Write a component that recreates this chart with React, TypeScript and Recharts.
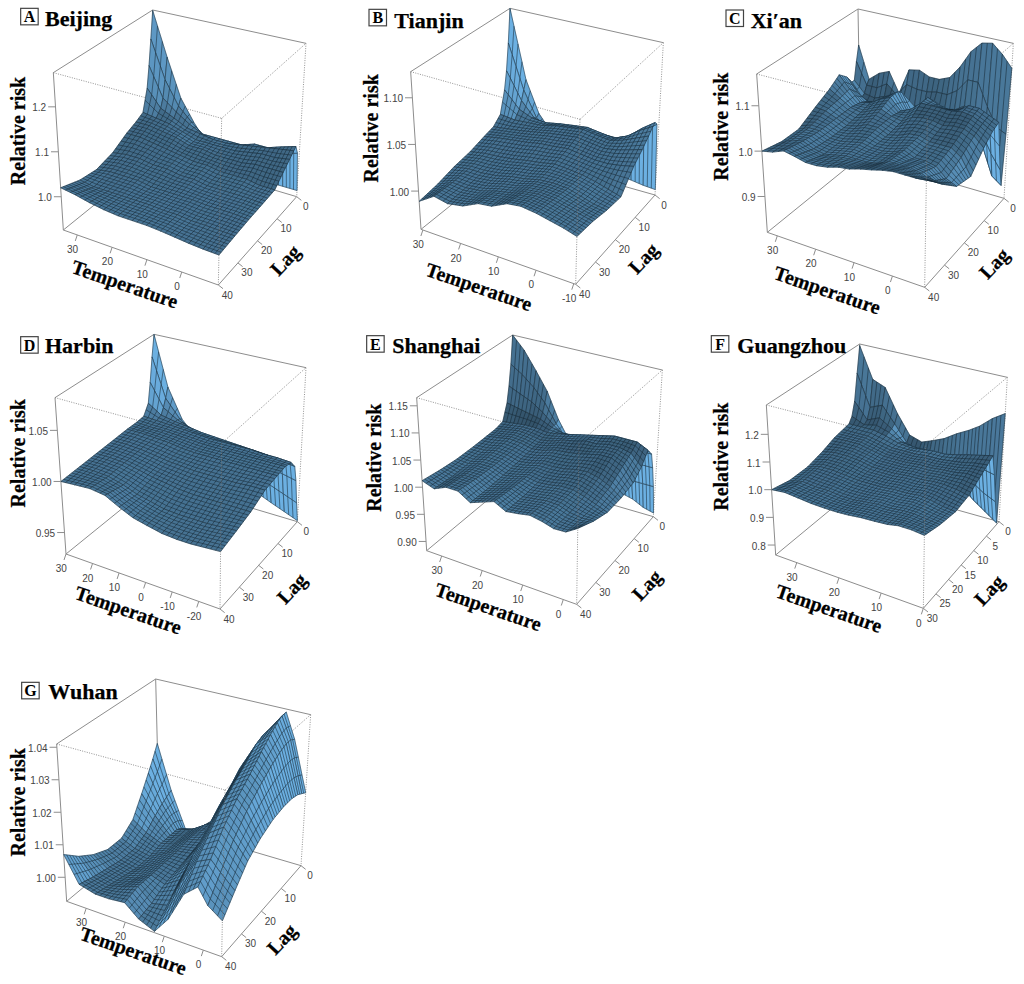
import React from 'react';
import { ScatterChart, Scatter, XAxis, YAxis } from 'recharts';

// lag rows go far to near, temperature columns hot to cold, risk[row][column]
const beijingTemps = [34, 30, 26, 22, 18, 14, 10, 6, 2, -2, -6, -10.5];
const beijingLags = [0, 1, 2, 3, 5, 8, 12, 18, 25, 32, 40];
const beijingRisk = [
  [1.275, 1.17, 1.08, 1.03, 0.99, 0.97, 0.96, 0.95, 0.95, 0.94, 0.94, 0.94],
  [1.21, 1.12, 1.065, 1.035, 1.01, 1.01, 1.01, 1.01, 1.01, 1.01, 1.02, 1.03],
  [1.15, 1.08, 1.055, 1.035, 1.02, 1.02, 1.02, 1.02, 1.03, 1.03, 1.04, 1.05],
  [1.1, 1.06, 1.045, 1.03, 1.025, 1.02, 1.02, 1.025, 1.03, 1.035, 1.04, 1.045],
  [1.05, 1.045, 1.04, 1.03, 1.02, 1.02, 1.02, 1.02, 1.025, 1.03, 1.03, 1.035],
  [1.04, 1.04, 1.035, 1.03, 1.02, 1.02, 1.015, 1.015, 1.015, 1.02, 1.02, 1.02],
  [1.03, 1.03, 1.025, 1.02, 1.015, 1.01, 1.01, 1.005, 1.005, 1.005, 1.0, 1.0],
  [1.01, 1.015, 1.015, 1.01, 1.01, 1.005, 1.005, 1.0, 1.0, 1.0, 1.0, 0.998],
  [1.0, 1.005, 1.005, 1.005, 1.0, 1.0, 1.0, 1.0, 0.998, 0.998, 0.998, 0.996],
  [1.005, 1.0, 1.0, 1.0, 1.0, 1.0, 0.998, 0.998, 0.995, 0.995, 0.994, 0.993],
  [1.02, 1.015, 1.008, 1.003, 1.0, 1.0, 1.0, 0.998, 0.995, 0.992, 0.99, 0.989],
];

const tianjinTemps = [30.5, 26.5, 23, 19, 15, 11.5, 7.5, 4, 0, -3.5, -7, -10.5];
const tianjinLags = [0, 1, 2, 3, 5, 8, 12, 18, 25, 32, 40];
const tianjinRisk = [
  [1.128, 1.05, 1.015, 0.995, 0.985, 0.98, 0.975, 0.97, 0.97, 0.968, 0.966, 0.965],
  [1.09, 1.04, 1.012, 1.0, 1.0, 1.005, 1.008, 1.01, 1.012, 1.018, 1.028, 1.04],
  [1.06, 1.03, 1.014, 1.01, 1.012, 1.016, 1.018, 1.016, 1.016, 1.022, 1.034, 1.044],
  [1.04, 1.022, 1.016, 1.015, 1.018, 1.02, 1.022, 1.02, 1.018, 1.024, 1.034, 1.042],
  [1.016, 1.014, 1.015, 1.016, 1.02, 1.022, 1.024, 1.022, 1.02, 1.024, 1.03, 1.036],
  [1.008, 1.01, 1.012, 1.015, 1.018, 1.02, 1.022, 1.02, 1.018, 1.02, 1.024, 1.028],
  [1.005, 1.008, 1.01, 1.012, 1.015, 1.016, 1.018, 1.016, 1.014, 1.014, 1.016, 1.019],
  [1.0, 1.003, 1.004, 1.006, 1.009, 1.011, 1.014, 1.013, 1.011, 1.008, 1.004, 1.0],
  [0.997, 1.0, 1.0, 1.002, 1.006, 1.008, 1.012, 1.013, 1.012, 1.008, 1.004, 1.002],
  [0.992, 0.999, 0.998, 1.0, 1.005, 1.008, 1.014, 1.016, 1.015, 1.012, 1.009, 1.006],
  [0.989, 1.0, 0.997, 1.0, 1.008, 1.01, 1.018, 1.02, 1.018, 1.015, 1.012, 1.008],
];

const xianTemps = [32.6, 29.9, 27.1, 24.4, 21.7, 19, 16.2, 13.5, 10.8, 8, 5.3, 2.6, -0.2, -3, -5.7, -8.4];
const xianLags = [0, 1, 2, 3, 5, 8, 12, 18, 25, 32, 40];
const xianRisk = [
  [1.085, 1.01, 1.03, 1.04, 0.995, 1.055, 1.06, 1.05, 1.05, 1.06, 1.09, 1.13, 1.155, 1.16, 1.14, 1.114],
  [1.05, 1.0, 1.0, 1.015, 0.995, 1.025, 1.02, 1.02, 1.025, 1.025, 1.04, 1.07, 1.07, 1.02, 0.98, 0.97],
  [1.01, 0.985, 0.98, 0.99, 0.995, 1.005, 0.985, 0.995, 1.01, 0.995, 1.0, 1.015, 1.0, 0.93, 0.875, 0.86],
  [1.01, 0.98, 0.97, 0.98, 1.0, 1.015, 0.975, 0.99, 1.015, 1.0, 1.0, 1.01, 1.01, 0.97, 0.93, 0.9],
  [1.03, 1.0, 0.985, 0.99, 1.01, 1.025, 0.985, 1.0, 1.03, 1.02, 1.015, 1.02, 1.035, 1.035, 1.025, 1.015],
  [1.047, 1.02, 0.995, 1.0, 1.015, 1.025, 1.0, 1.01, 1.03, 1.03, 1.03, 1.03, 1.034, 1.03, 1.02, 1.008],
  [1.03, 1.015, 1.0, 0.995, 1.005, 1.015, 1.005, 1.0, 1.015, 1.02, 1.02, 1.015, 1.02, 1.02, 1.01, 0.99],
  [1.012, 1.01, 1.0, 0.99, 0.995, 1.005, 1.005, 0.995, 1.0, 1.01, 1.012, 1.005, 1.005, 1.005, 0.99, 0.955],
  [0.99, 1.0, 1.0, 0.99, 0.99, 0.995, 1.0, 0.995, 0.995, 1.0, 1.01, 1.0, 1.0, 0.995, 0.975, 0.965],
  [0.99, 1.0, 1.005, 0.995, 0.99, 0.995, 1.0, 1.0, 1.0, 1.005, 1.015, 1.015, 1.015, 1.01, 1.0, 1.0],
  [1.0, 1.005, 1.015, 1.01, 1.004, 1.004, 1.008, 1.015, 1.018, 1.025, 1.03, 1.036, 1.04, 1.04, 1.04, 1.05],
];

const harbinTemps = [30, 25, 19.5, 14, 9, 4, -1, -6.5, -12, -17, -22.5, -28];
const harbinLags = [0, 1, 2, 3, 5, 8, 12, 18, 25, 32, 40];
const harbinRisk = [
  [1.082, 1.03, 1.0, 0.985, 0.975, 0.965, 0.955, 0.95, 0.945, 0.94, 0.935, 0.93],
  [1.06, 1.02, 1.002, 0.992, 0.985, 0.978, 0.972, 0.968, 0.964, 0.96, 0.955, 0.95],
  [1.035, 1.012, 1.003, 0.998, 0.994, 0.99, 0.987, 0.984, 0.982, 0.98, 0.977, 0.974],
  [1.015, 1.006, 1.003, 1.001, 0.999, 0.998, 0.997, 0.996, 0.995, 0.994, 0.992, 0.99],
  [1.005, 1.004, 1.003, 1.002, 1.001, 1.0, 1.0, 1.0, 1.0, 0.999, 0.999, 0.998],
  [1.004, 1.003, 1.003, 1.002, 1.001, 1.0, 1.0, 1.0, 1.0, 1.0, 1.0, 1.0],
  [1.004, 1.004, 1.003, 1.002, 1.0, 0.999, 0.999, 0.999, 0.999, 0.999, 0.999, 0.999],
  [1.003, 1.003, 1.002, 1.0, 0.998, 0.997, 0.996, 0.996, 0.996, 0.996, 0.997, 0.997],
  [1.002, 1.002, 1.001, 0.998, 0.995, 0.993, 0.991, 0.99, 0.99, 0.99, 0.99, 0.99],
  [1.001, 1.001, 1.0, 0.996, 0.991, 0.988, 0.985, 0.984, 0.984, 0.984, 0.985, 0.986],
  [1.0, 1.001, 1.002, 1.0, 0.993, 0.987, 0.984, 0.981, 0.98, 0.98, 0.981, 0.982],
];

const shanghaiTemps = [33.7, 30.9, 28, 25.2, 22.3, 19.5, 16.6, 13.8, 10.9, 8.1, 5.2, 2.4, -0.5, -3.3];
const shanghaiLags = [0, 1, 2, 3, 5, 8, 12, 18, 25, 32, 40];
const shanghaiRisk = [
  [1.165, 1.14, 1.105, 1.07, 1.02, 0.985, 0.96, 0.945, 0.93, 0.92, 0.91, 0.905, 0.895, 0.89],
  [1.11, 1.095, 1.075, 1.05, 1.015, 0.99, 0.975, 0.965, 0.955, 0.95, 0.945, 0.945, 0.945, 0.945],
  [1.07, 1.06, 1.05, 1.035, 1.015, 1.0, 0.995, 0.99, 0.985, 0.985, 0.985, 0.985, 0.985, 0.985],
  [1.04, 1.035, 1.03, 1.025, 1.015, 1.01, 1.01, 1.01, 1.01, 1.01, 1.01, 1.01, 1.015, 1.015],
  [1.01, 1.012, 1.015, 1.015, 1.012, 1.015, 1.02, 1.025, 1.03, 1.035, 1.04, 1.04, 1.04, 1.03],
  [1.006, 1.01, 1.014, 1.012, 1.008, 1.012, 1.02, 1.024, 1.03, 1.03, 1.035, 1.035, 1.03, 1.01],
  [1.005, 1.008, 1.012, 1.01, 1.005, 1.008, 1.015, 1.017, 1.02, 1.025, 1.03, 1.03, 1.02, 0.995],
  [1.004, 1.004, 1.01, 1.008, 1.002, 1.005, 1.011, 1.011, 1.013, 1.018, 1.02, 1.015, 1.005, 0.99],
  [1.004, 1.002, 1.008, 1.008, 1.0, 1.004, 1.01, 1.006, 1.008, 1.012, 1.012, 1.006, 0.998, 0.99],
  [1.007, 1.001, 1.01, 1.01, 0.999, 1.005, 1.012, 1.004, 1.007, 1.01, 1.009, 1.002, 0.999, 1.0],
  [1.012, 1.004, 1.014, 1.014, 1.0, 1.008, 1.016, 1.005, 1.008, 1.012, 1.008, 1.002, 1.003, 1.016],
];

const guangzhouTemps = [35, 32, 29, 26, 23, 20, 17.5, 14.5, 11.5, 8.5, 6, 3, 0];
const guangzhouLags = [0, 1, 2, 3, 4, 6, 9, 13, 18, 24, 30];
const guangzhouRisk = [
  [1.3, 1.18, 1.16, 1.07, 1.0, 0.985, 1.0, 1.02, 1.05, 1.075, 1.1, 1.14, 1.17],
  [1.2, 1.08, 1.1, 1.04, 0.98, 0.96, 0.95, 0.93, 0.9, 0.86, 0.83, 0.8, 0.77],
  [1.1, 1.04, 1.06, 1.03, 0.99, 0.98, 0.975, 0.965, 0.95, 0.93, 0.91, 0.88, 0.86],
  [1.05, 1.03, 1.04, 1.025, 1.0, 0.995, 0.995, 0.99, 0.99, 1.0, 1.0, 0.98, 0.97],
  [1.03, 1.03, 1.03, 1.02, 1.005, 1.0, 1.005, 1.01, 1.01, 1.02, 1.03, 1.04, 1.05],
  [1.025, 1.025, 1.025, 1.015, 1.005, 1.005, 1.005, 1.01, 1.01, 1.015, 1.02, 1.03, 1.035],
  [1.018, 1.02, 1.02, 1.01, 1.0, 1.0, 1.0, 1.005, 1.005, 1.01, 1.012, 1.02, 1.015],
  [1.0, 1.01, 1.01, 1.005, 0.995, 0.995, 0.995, 1.0, 1.0, 1.005, 1.005, 1.0, 0.99],
  [0.985, 1.0, 1.0, 0.995, 0.99, 0.99, 0.99, 0.995, 0.995, 1.0, 0.995, 0.985, 0.98],
  [0.985, 0.995, 0.99, 0.99, 0.985, 0.985, 0.99, 0.995, 0.995, 1.0, 1.0, 0.995, 0.99],
  [1.0, 1.005, 1.0, 0.995, 0.993, 0.993, 0.995, 1.0, 1.002, 1.005, 1.012, 1.012, 1.007],
];

const wuhanTemps = [35, 31.5, 27.5, 24, 20, 16.5, 12.5, 9, 5, 1.5, -1, -4.7];
const wuhanLags = [0, 2, 4, 7, 11, 16, 22, 28, 34, 40];
const wuhanRisk = [
  [1.0195, 1.005, 0.993, 0.995, 0.999, 1.002, 1.01, 1.022, 1.034, 1.04, 1.032, 1.016],
  [1.0155, 1.004, 0.995, 0.996, 0.999, 1.002, 1.011, 1.023, 1.034, 1.04, 1.033, 1.017],
  [1.012, 1.003, 0.996, 0.997, 1.0, 1.002, 1.011, 1.024, 1.034, 1.039, 1.033, 1.018],
  [1.007, 1.001, 0.996, 0.997, 1.0, 1.002, 1.011, 1.024, 1.033, 1.037, 1.032, 1.0187],
  [1.001, 0.998, 0.996, 0.997, 1.0, 1.001, 1.009, 1.021, 1.03, 1.034, 1.03, 1.0187],
  [0.998, 0.996, 0.995, 0.997, 0.9995, 1.0, 1.007, 1.018, 1.027, 1.03, 1.027, 1.018],
  [0.998, 0.996, 0.995, 0.997, 0.9995, 0.999, 1.004, 1.014, 1.023, 1.026, 1.023, 1.016],
  [1.0, 0.997, 0.996, 0.997, 0.9995, 0.998, 1.001, 1.01, 1.018, 1.021, 1.018, 1.013],
  [1.003, 0.998, 0.997, 0.998, 0.9997, 0.996, 0.997, 1.005, 1.013, 1.015, 1.012, 1.008],
  [1.007, 0.9993, 0.998, 0.998, 0.9985, 0.995, 0.993, 0.998, 1.007, 1.0105, 1.006, 1.003],
];

type Pt = [number, number];

interface Panel {
  letter: string; name: string; left: number; top: number;
  temps: number[]; lags: number[]; risk: number[][];
  zRange: [number, number]; zTicks: number[]; zDigits: number;
  tempTicks: number[]; lagTicks: number[]; rearShade: number;
  topBack: Pt; topRight: Pt; topLeft: Pt; topFront: Pt;
  floorBack: Pt; floorRight: Pt; floorLeft: Pt; floorFront: Pt;
  box: Pt; title: Pt; tempLabel: Pt; lagLabel: Pt; riskLabel: Pt;
}

const panels: Panel[] = [
  { letter: 'A', name: 'Beijing', left: 0, top: 0, temps: beijingTemps, lags: beijingLags, risk: beijingRisk, rearShade: 0.3,
    zRange: [0.926, 1.276], zTicks: [1.0, 1.1, 1.2], zDigits: 1, tempTicks: [30, 20, 10, 0], lagTicks: [0, 10, 20, 30, 40],
    topBack: [458, 30], topRight: [918, 130], topLeft: [160, 218], topFront: [665, 355],
    floorBack: [468, 465], floorRight: [890, 590], floorLeft: [190, 690], floorFront: [655, 855],
    box: [62, 25], title: [135, 72], tempLabel: [375, 852], lagLabel: [855, 780], riskLabel: [55, 393] },
  { letter: 'B', name: 'Tianjin', left: 345, top: 0, temps: tianjinTemps, lags: tianjinLags, risk: tianjinRisk, rearShade: 0.15,
    zRange: [0.959, 1.128], zTicks: [1.0, 1.05, 1.1], zDigits: 2, tempTicks: [30, 20, 10, 0, -10], lagTicks: [0, 10, 20, 30, 40],
    topBack: [495, 25], topRight: [955, 128], topLeft: [197, 215], topFront: [705, 358],
    floorBack: [505, 465], floorRight: [930, 585], floorLeft: [228, 688], floorFront: [692, 853],
    box: [72, 28], title: [148, 78], tempLabel: [402, 860], lagLabel: [895, 775], riskLabel: [78, 385] },
  { letter: 'C', name: 'Xi′an', left: 684, top: 0, temps: xianTemps, lags: xianLags, risk: xianRisk, rearShade: 0.5,
    zRange: [0.821, 1.17], zTicks: [0.9, 1.0, 1.1], zDigits: 1, tempTicks: [30, 20, 10, 0], lagTicks: [0, 10, 20, 30, 40],
    topBack: [522, 27], topRight: [988, 130], topLeft: [218, 222], topFront: [730, 355],
    floorBack: [530, 470], floorRight: [960, 595], floorLeft: [250, 697], floorFront: [722, 862],
    box: [126, 30], title: [200, 78], tempLabel: [430, 870], lagLabel: [930, 790], riskLabel: [112, 380] },
  { letter: 'D', name: 'Harbin', left: 0, top: 325, temps: harbinTemps, lags: harbinLags, risk: harbinRisk, rearShade: 0.15,
    zRange: [0.929, 1.082], zTicks: [0.95, 1.0, 1.05], zDigits: 2, tempTicks: [30, 20, 10, 0, -10, -20], lagTicks: [0, 10, 20, 30, 40],
    topBack: [462, 28], topRight: [918, 128], topLeft: [165, 218], topFront: [665, 355],
    floorBack: [472, 465], floorRight: [892, 590], floorLeft: [198, 687], floorFront: [660, 852],
    box: [62, 35], title: [135, 80], tempLabel: [385, 855], lagLabel: [875, 790], riskLabel: [55, 385] },
  { letter: 'E', name: 'Shanghai', left: 345, top: 325, temps: shanghaiTemps, lags: shanghaiLags, risk: shanghaiRisk, rearShade: 0.5,
    zRange: [0.883, 1.165], zTicks: [0.9, 0.95, 1.0, 1.05, 1.1, 1.15], zDigits: 2, tempTicks: [30, 20, 10, 0], lagTicks: [0, 10, 20, 30, 40],
    topBack: [503, 30], topRight: [952, 135], topLeft: [215, 218], topFront: [702, 355],
    floorBack: [512, 455], floorRight: [925, 575], floorLeft: [245, 677], floorFront: [695, 838],
    box: [65, 32], title: [142, 78], tempLabel: [430, 845], lagLabel: [905, 780], riskLabel: [88, 398] },
  { letter: 'F', name: 'Guangzhou', left: 684, top: 325, temps: guangzhouTemps, lags: guangzhouLags, risk: guangzhouRisk, rearShade: 0.5,
    zRange: [0.764, 1.306], zTicks: [0.8, 0.9, 1.0, 1.1, 1.2], zDigits: 1, tempTicks: [30, 20, 10, 0], lagTicks: [0, 5, 10, 15, 20, 25, 30],
    topBack: [527, 57], topRight: [970, 157], topLeft: [247, 240], topFront: [725, 362],
    floorBack: [535, 475], floorRight: [945, 590], floorLeft: [275, 690], floorFront: [718, 850],
    box: [82, 32], title: [160, 80], tempLabel: [435, 850], lagLabel: [915, 795], riskLabel: [112, 395] },
  { letter: 'G', name: 'Wuhan', left: 0, top: 664, temps: wuhanTemps, lags: wuhanLags, risk: wuhanRisk, rearShade: 0,
    zRange: [0.9926, 1.041], zTicks: [1.0, 1.01, 1.02, 1.03, 1.04], zDigits: 2, tempTicks: [30, 20, 10, 0], lagTicks: [0, 10, 20, 30, 40],
    topBack: [467, 45], topRight: [932, 152], topLeft: [170, 240], topFront: [675, 378],
    floorBack: [478, 480], floorRight: [903, 605], floorLeft: [200, 712], floorFront: [665, 878],
    box: [65, 55], title: [145, 100], tempLabel: [400, 860], lagLabel: [845, 825], riskLabel: [55, 415] },
];

const CROP = 1 / 3;
const MESH = 36;
const SERIF = '"Liberation Serif", "DejaVu Serif", serif';
const SANS = '"Liberation Sans", Arial, sans-serif';

const lerp = (a: Pt, b: Pt, t: number): Pt => [a[0] + (b[0] - a[0]) * t, a[1] + (b[1] - a[1]) * t];

// u: 0 hot, 1 cold. v: 0 lag zero, 1 longest lag. w: 0 floor, 1 top of box.
const project = (p: Panel, u: number, v: number, w: number): Pt => {
  const floor = lerp(lerp(p.floorBack, p.floorRight, u), lerp(p.floorLeft, p.floorFront, u), v);
  const top = lerp(lerp(p.topBack, p.topRight, u), lerp(p.topLeft, p.topFront, u), v);
  return lerp(floor, top, w);
};

// flat parts sit dark under the mesh, steep parts lighter, slopes falling toward the viewer darker
const shadeOf = (a: number[], b: number[], c: number[], d: number[], rear: number) => {
  const e = [c[0] - a[0], c[1] - a[1], c[2] - a[2]];
  const f = [d[0] - b[0], d[1] - b[1], d[2] - b[2]];
  let n = [e[1] * f[2] - e[2] * f[1], e[2] * f[0] - e[0] * f[2], e[0] * f[1] - e[1] * f[0]];
  if (n[2] < 0) n = n.map((q) => -q);
  const len = Math.hypot(n[0], n[1], n[2]) || 1;
  const k = Math.max(0.4, Math.min(1, 0.66 + 0.55 * (1 - n[2] / len) - rear * Math.max(0, n[1] / len)));
  return `rgb(${Math.round(108 * k)},${Math.round(176 * k)},${Math.round(226 * k)})`;
};

const buildFacets = (p: Panel) => {
  const uOf = (t: number) => (p.temps[0] - t) / (p.temps[0] - p.temps[p.temps.length - 1]);
  const vOf = (l: number) => l / p.lags[p.lags.length - 1];
  const wOf = (z: number) => (z - p.zRange[0]) / (p.zRange[1] - p.zRange[0]);
  const out: any[] = [];
  p.lags.slice(0, -1).forEach((lag, r) => {
    p.temps.slice(0, -1).forEach((temp, c) => {
      const u0 = uOf(temp), u1 = uOf(p.temps[c + 1]);
      const v0 = vOf(lag), v1 = vOf(p.lags[r + 1]);
      const w = [p.risk[r][c], p.risk[r][c + 1], p.risk[r + 1][c + 1], p.risk[r + 1][c]].map(wOf);
      const pts = [project(p, u0, v0, w[0]), project(p, u1, v0, w[1]), project(p, u1, v1, w[2]), project(p, u0, v1, w[3])];
      const fill = shadeOf([u0, v0, w[0]], [u1, v0, w[1]], [u1, v1, w[2]], [u0, v1, w[3]], p.rearShade);
      out.push({ x: pts[0][0], y: pts[0][1], pts, fill, cols: Math.round((u1 - u0) * MESH), rows: Math.round((v1 - v0) * MESH) });
    });
  });
  return out;
};

const FacetShape = (props: any) => {
  const { cx, cy, payload } = props;
  const { x, y, pts, fill, cols, rows } = payload;
  const s = pts.map((q: Pt) => [cx + (q[0] - x) * CROP, cy + (q[1] - y) * CROP] as Pt);
  let mesh = `M${s.map((q: Pt) => q.join(' ')).join('L')}Z`;
  for (let i = 1; i < cols; i++) {
    const a = lerp(s[0], s[1], i / cols), b = lerp(s[3], s[2], i / cols);
    mesh += `M${a.join(' ')}L${b.join(' ')}`;
  }
  for (let i = 1; i < rows; i++) {
    const a = lerp(s[0], s[3], i / rows), b = lerp(s[1], s[2], i / rows);
    mesh += `M${a.join(' ')}L${b.join(' ')}`;
  }
  return (
    <g>
      <path d={`M${s.map((q: Pt) => q.join(' ')).join('L')}Z`} fill={fill} stroke={fill} strokeWidth={0.4} />
      <path d={mesh} fill="none" stroke="#14242f" strokeWidth={0.7} strokeOpacity={0.75} />
    </g>
  );
};

const SegmentShape = (props: any) => {
  const { cx, cy, payload } = props;
  const { x, y, to, stroke, dash, width } = payload;
  return <line x1={cx} y1={cy} x2={cx + (to[0] - x) * CROP} y2={cy + (to[1] - y) * CROP} stroke={stroke} strokeDasharray={dash} strokeWidth={width} />;
};

const TextShape = (props: any) => {
  const { cx, cy, payload } = props;
  const { text, size, family, weight, anchor, rotate, fill, heavy } = payload;
  return (
    <text x={cx} y={cy} fontSize={size} fontFamily={family} fontWeight={weight} textAnchor={anchor} dominantBaseline="central"
      fill={fill} stroke={heavy ? fill : undefined} strokeWidth={heavy ? 0.25 : undefined}
      transform={rotate ? `rotate(${rotate} ${cx} ${cy})` : undefined}>{text}</text>
  );
};

const BadgeShape = (props: any) => {
  const { cx, cy, payload } = props;
  return (
    <g>
      <rect x={cx} y={cy} width={17.5} height={16.5} fill="#fff" stroke="#444" strokeWidth={1.2} />
      <text x={cx + 8.75} y={cy + 8.5} fontSize={16} fontFamily={SERIF} fontWeight={700} textAnchor="middle" dominantBaseline="central">{payload.letter}</text>
    </g>
  );
};

const seg = (a: Pt, b: Pt, dotted: boolean) => ({
  x: a[0], y: a[1], to: b, stroke: dotted ? '#777' : '#8d8d8d', dash: dotted ? '1 1.4' : undefined, width: dotted ? 0.8 : 1,
});

const PanelChart = ({ p }: { p: Panel }) => {
  const backEdges = [
    seg(p.topLeft, p.topBack, false), seg(p.topBack, p.topRight, false), seg(p.topBack, p.floorBack, false),
    seg(p.topLeft, p.floorLeft, false), seg(p.floorLeft, p.floorBack, false), seg(p.floorBack, p.floorRight, false),
    seg(p.floorLeft, p.floorFront, false), seg(p.floorFront, p.floorRight, false),
    seg(p.topLeft, p.topFront, true), seg(p.topFront, p.topRight, true), seg(p.topRight, p.floorRight, true),
  ];
  const frontEdges = [seg(p.topFront, p.floorFront, true)];

  const ticks: any[] = [];
  const labels: any[] = [];
  const tick = { size: 10, family: SANS, weight: 400, anchor: 'middle', fill: '#444' };
  const uOf = (t: number) => (p.temps[0] - t) / (p.temps[0] - p.temps[p.temps.length - 1]);
  p.tempTicks.forEach((t) => {
    const at = lerp(p.floorLeft, p.floorFront, uOf(t));
    ticks.push(seg(at, [at[0] - 6, at[1] + 18], false));
    labels.push({ ...tick, x: at[0] - 14, y: at[1] + 44, text: String(t) });
  });
  p.lagTicks.forEach((l) => {
    const at = lerp(p.floorRight, p.floorFront, l / p.lags[p.lags.length - 1]);
    ticks.push(seg(at, [at[0] + 14, at[1] + 11], false));
    labels.push({ ...tick, x: at[0] + 27, y: at[1] + 30, text: String(l) });
  });
  p.zTicks.forEach((z) => {
    const at = lerp(p.floorLeft, p.topLeft, (z - p.zRange[0]) / (p.zRange[1] - p.zRange[0]));
    ticks.push(seg(at, [at[0] - 22, at[1]], false));
    labels.push({ ...tick, anchor: 'end', x: at[0] - 28, y: at[1] + 3, text: z.toFixed(p.zDigits) });
  });
  const bold = { size: 20, family: SERIF, weight: 700, anchor: 'middle', fill: '#000', heavy: true };
  labels.push({ ...bold, x: p.tempLabel[0], y: p.tempLabel[1], rotate: 19, text: 'Temperature' });
  labels.push({ ...bold, x: p.lagLabel[0], y: p.lagLabel[1], rotate: -47, text: 'Lag' });
  labels.push({ ...bold, x: p.riskLabel[0], y: p.riskLabel[1], rotate: -90, text: 'Relative risk' });
  labels.push({ ...bold, size: 22, anchor: 'start', x: p.title[0], y: p.title[1] - 18, text: p.name });

  return (
    <div style={{ position: 'absolute', left: p.left, top: p.top, width: 340, height: 320 }}>
      <ScatterChart width={340} height={320} margin={{ top: 0, right: 0, bottom: 0, left: 0 }}>
        <XAxis type="number" dataKey="x" hide domain={[0, 1020]} />
        <YAxis type="number" dataKey="y" hide reversed domain={[0, 960]} />
        <Scatter data={backEdges} shape={SegmentShape} isAnimationActive={false} />
        <Scatter data={buildFacets(p)} shape={FacetShape} isAnimationActive={false} />
        <Scatter data={frontEdges} shape={SegmentShape} isAnimationActive={false} />
        <Scatter data={ticks} shape={SegmentShape} isAnimationActive={false} />
        <Scatter data={labels} shape={TextShape} isAnimationActive={false} />
        <Scatter data={[{ x: p.box[0], y: p.box[1], letter: p.letter }]} shape={BadgeShape} isAnimationActive={false} />
      </ScatterChart>
    </div>
  );
};

export default function App() {
  return (
    <div style={{ position: 'absolute', left: 0, top: 0, width: 1024, height: 984, background: '#fff', overflow: 'hidden' }}>
      {panels.map((p) => <PanelChart key={p.letter} p={p} />)}
    </div>
  );
}
